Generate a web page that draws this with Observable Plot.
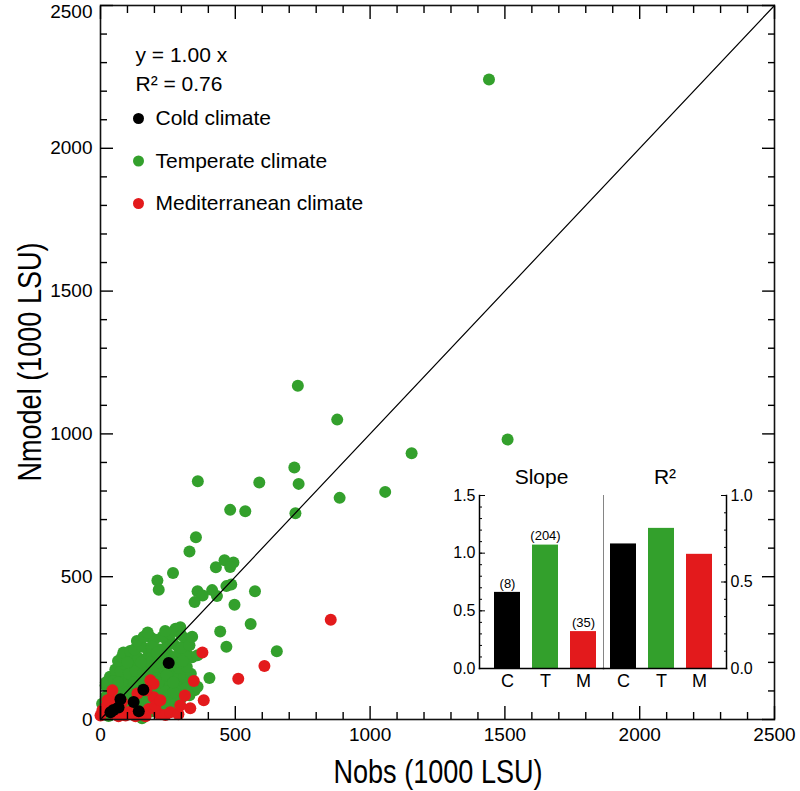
<!DOCTYPE html>
<html><head><meta charset="utf-8">
<script src="https://cdn.jsdelivr.net/npm/d3@7"></script>
<script src="https://cdn.jsdelivr.net/npm/@observablehq/plot@0.6"></script>
<style>
body{margin:0;background:#fff;}
#wrap{position:relative;width:800px;height:791px;}
.inset{position:absolute;}
.atitle{position:absolute;font-family:"Liberation Sans",Arial,sans-serif;font-size:33px;line-height:1;white-space:nowrap;color:#000;}
#xtitle{left:438px;top:771px;transform:translate(-50%,-50%) scaleX(0.82);}
#ytitle{left:29px;top:362px;transform:translate(-50%,-50%) rotate(-90deg) scaleX(0.82);}
</style></head><body><div id="wrap"></div>
<script>
// ---------- data ----------
const coldX = [253,159,74,123,48,67,142,37];
const coldY = [198,104,71,61,33,42,29,25];

const medX = [854,378,608,511,346,313,383,185,197,197,37,80,19,49,105,179,216,241,0,26,56,93,130,167,204,222,170,259,289,7,67,333,296,137,44];
const medY = [349,235,187,143,135,84,67,137,125,78,72,61,43,20,26,37,20,16,14,67,56,14,11,11,49,67,102,25,18,32,11,39,49,91,102];

const tempX = [1441,1510,732,878,1154,719,735,887,1056,361,589,481,537,723,354,330,269,211,216,428,460,493,481,467,485,360,379,349,414,432,573,497,557,444,467,654,404,349,296,278,284,185,142,247,290,315,99,130,179,216,74,105,142,303,340,204,241,278,56,93,130,19,229,266,80,6,154,
 10,30,55,85,110,135,160,190,220,250,
 15,40,65,90,115,145,170,200,230,260,290,
 20,45,70,95,120,150,175,205,235,265,300,330,
 30,55,85,110,140,165,195,225,255,285,315,360,
 35,60,90,115,145,170,200,225,255,285,310,335,250,
 55,75,95,120,150,180,210,235,260,290,320,300,
 65,80,110,140,165,190,230,255,280,320,360,
 85,110,125,155,195,220,245,270,300,330,
 135,160,200,230,260,300,340,
 25,50,75,100,130,155,180,210,240,270,20,50,80,105,130,160,185,215,245,275,305,175,240,
 35,65,100,125,150,185,215,245,270,190,210,150,100,60,240,280];
const tempY = [2241,980,1169,1050,932,882,825,776,797,834,830,734,729,722,638,588,513,487,454,533,558,550,534,467,473,449,434,411,453,432,449,402,334,308,255,239,145,102,323,318,312,288,265,277,253,283,218,224,236,213,189,178,195,213,218,166,154,154,154,137,125,119,107,90,90,55,4,
 20,12,25,18,30,22,15,28,35,40,
 45,50,60,48,42,55,48,52,60,55,60,
 80,85,95,75,85,80,72,85,78,70,75,85,
 110,115,112,105,115,120,108,115,120,110,120,115,
 150,160,145,150,145,140,150,140,135,140,150,160,165,
 175,170,190,185,180,175,185,180,190,180,185,200,
 205,220,210,215,210,220,215,225,220,230,225,
 235,240,245,255,250,245,255,265,250,260,
 275,290,280,290,300,295,290,
 35,35,40,60,65,35,60,70,100,95,130,135,130,160,170,165,200,200,210,200,205,305,310,
 95,130,95,130,100,90,130,155,130,255,235,200,200,25,20,35];

const fitSlope = 1.00;
const fitR2 = 0.76;

const legendLabels = ["Cold climate", "Temperate climate", "Mediterranean climate"];
const climateColors = ["#000000", "#33a02c", "#e31a1c"];

// inset
const climates = ["C", "T", "M"];
const slopeValues = [0.66, 1.07, 0.32];
const slopeCounts = [8, 204, 35];
const r2Values = [0.72, 0.81, 0.66];

// axis ticks
const mainMajor = [0, 500, 1000, 1500, 2000, 2500];
const mainMinor = d3.range(100, 2500, 100).filter(d => d % 500 !== 0);
const slopeMajor = [0, 0.5, 1.0, 1.5];
const slopeMinor = d3.range(0, 16).map(i => i / 10);
const r2Major = [0, 0.5, 1.0];
const r2Minor = d3.range(0, 11).map(i => i / 10);

const xTitle = "Nobs (1000 LSU)";
const yTitle = "Nmodel (1000 LSU)";

// ---------- build ----------
const toRows = (xs, ys) => xs.map((x, i) => ({x, y: ys[i]}));
const cold = toRows(coldX, coldY);
const temperate = toRows(tempX, tempY);
const mediterranean = toRows(medX, medY);

const FONT = '"Liberation Sans", Arial, sans-serif';

const blank = () => "";
function ticksAll(axis, anchors, major, minor, majorLen, minorLen, sw) {
  const out = [];
  for (const a of anchors) {
    out.push(axis({anchor: a, ticks: major, tickSize: -majorLen, tickFormat: blank, label: null, strokeWidth: sw}));
    out.push(axis({anchor: a, ticks: minor, tickSize: -minorLen, tickFormat: blank, label: null, strokeWidth: sw}));
  }
  return out;
}
const fmtInt = d => String(d);
const topY = mainMajor[mainMajor.length - 1];

const main = Plot.plot({
  width: 800, height: 791,
  marginLeft: 100, marginRight: 26, marginTop: 5, marginBottom: 72,
  style: {fontFamily: FONT, background: "white", color: "black", overflow: "visible"},
  x: {domain: [0, 2500], axis: null},
  y: {domain: [0, 2500], axis: null},
  marks: [
    Plot.dot(temperate, {x: "x", y: "y", r: 6, fill: climateColors[1]}),
    Plot.dot(mediterranean, {x: "x", y: "y", r: 6, fill: climateColors[2]}),
    Plot.dot(cold, {x: "x", y: "y", r: 6, fill: climateColors[0]}),
    Plot.line([0, 2500], {x: d => d, y: d => fitSlope * d, stroke: "black", strokeWidth: 1.2}),
    Plot.frame({stroke: "#111", strokeWidth: 1.6}),
    ...ticksAll(Plot.axisX, ["bottom", "top"], mainMajor, mainMinor, 13, 7, 1.4),
    ...ticksAll(Plot.axisY, ["left", "right"], mainMajor, mainMinor, 13, 7, 1.4),
    Plot.axisX({anchor: "bottom", ticks: mainMajor, tickSize: 0, tickPadding: 8, fontSize: 19, tickFormat: fmtInt, label: null}),
    Plot.axisY({anchor: "left", ticks: mainMajor.filter(d => d !== topY), tickSize: 0, tickPadding: 8, fontSize: 19, tickFormat: fmtInt, label: null}),
    Plot.axisY({anchor: "left", ticks: [topY], tickSize: 0, tickPadding: 8, fontSize: 19, dy: 6, tickFormat: fmtInt, label: null}),
    Plot.text([`y = ${fitSlope.toFixed(2)} x`], {frameAnchor: "top-left", dx: 35, dy: 50, fontSize: 21, textAnchor: "start", lineAnchor: "middle"}),
    Plot.text([`R² = ${fitR2.toFixed(2)}`], {frameAnchor: "top-left", dx: 35, dy: 79, fontSize: 21, textAnchor: "start", lineAnchor: "middle"}),
    ...legendLabels.flatMap((lab, i) => [
      Plot.dot([lab], {frameAnchor: "top-left", dx: 38, dy: 113 + i * 42.5, r: 5.5, fill: climateColors[i]}),
      Plot.text([lab], {frameAnchor: "top-left", dx: 55, dy: 113 + i * 42.5, fontSize: 21, textAnchor: "start", lineAnchor: "middle"})
    ])
  ]
});

const slopeRows = climates.map((c, i) => ({climate: c, value: slopeValues[i], n: slopeCounts[i]}));
const r2Rows = climates.map((c, i) => ({climate: c, value: r2Values[i]}));

const insetL = Plot.plot({
  width: 163, height: 245,
  marginLeft: 39, marginRight: 0, marginTop: 40, marginBottom: 32,
  style: {fontFamily: FONT, background: "transparent", color: "black", overflow: "visible"},
  x: {domain: climates, paddingInner: 0.3077, paddingOuter: 0.2436, align: 0.684, axis: null},
  y: {domain: [0, 1.5], axis: null},
  color: {domain: climates, range: climateColors},
  marks: [
    Plot.barY(slopeRows, {x: "climate", y: "value", fill: "climate"}),
    Plot.text(slopeRows, {x: "climate", y: "value", text: d => `(${d.n})`, dy: -9, fontSize: 13, lineAnchor: "middle"}),
    Plot.text(["Slope"], {frameAnchor: "top", dy: -18, fontSize: 21, lineAnchor: "middle"}),
    Plot.axisX({anchor: "bottom", tickSize: 0, tickPadding: 6, fontSize: 18, label: null}),
    Plot.axisY({anchor: "left", ticks: slopeMajor, tickSize: 0, tickPadding: 4, fontSize: 16, tickFormat: d3.format(".1f"), label: null}),
    Plot.axisY({anchor: "left", ticks: slopeMajor, tickSize: -6, tickFormat: blank, label: null}),
    Plot.axisY({anchor: "left", ticks: slopeMinor, tickSize: -3, tickFormat: blank, label: null}),
    Plot.frame({anchor: "left", stroke: "black", strokeWidth: 1.5}),
    Plot.frame({anchor: "bottom", stroke: "black", strokeWidth: 1.5})
  ]
});

const insetR = Plot.plot({
  width: 167, height: 245,
  marginLeft: 0, marginRight: 44, marginTop: 40, marginBottom: 32,
  style: {fontFamily: FONT, background: "transparent", color: "black", overflow: "visible"},
  x: {domain: climates, paddingInner: 0.3077, paddingOuter: 0.25, align: 0.333, axis: null},
  y: {domain: [0, 1.0], axis: null},
  color: {domain: climates, range: climateColors},
  marks: [
    Plot.barY(r2Rows, {x: "climate", y: "value", fill: "climate"}),
    Plot.text(["R²"], {frameAnchor: "top", dy: -18, fontSize: 21, lineAnchor: "middle"}),
    Plot.axisX({anchor: "bottom", tickSize: 0, tickPadding: 6, fontSize: 18, label: null}),
    Plot.axisY({anchor: "right", ticks: r2Major, tickSize: 0, tickPadding: 4, fontSize: 16, tickFormat: d3.format(".1f"), label: null}),
    Plot.axisY({anchor: "right", ticks: r2Major, tickSize: -6, tickFormat: blank, label: null}),
    Plot.axisY({anchor: "right", ticks: r2Minor, tickSize: -3, tickFormat: blank, label: null}),
    Plot.frame({anchor: "left", stroke: "#666", strokeWidth: 0.8}),
    Plot.frame({anchor: "right", stroke: "black", strokeWidth: 1.5}),
    Plot.frame({anchor: "bottom", stroke: "black", strokeWidth: 1.5})
  ]
});

const wrap = document.getElementById("wrap");
wrap.appendChild(main);
const dL = document.createElement("div"); dL.className = "inset"; dL.style.left = "440px"; dL.style.top = "455px"; dL.appendChild(insetL);
const dR = document.createElement("div"); dR.className = "inset"; dR.style.left = "603px"; dR.style.top = "455px"; dR.appendChild(insetR);
wrap.appendChild(dL); wrap.appendChild(dR);
const xt = document.createElement("div"); xt.className = "atitle"; xt.id = "xtitle"; xt.textContent = xTitle;
const yt = document.createElement("div"); yt.className = "atitle"; yt.id = "ytitle"; yt.textContent = yTitle;
wrap.appendChild(xt); wrap.appendChild(yt);
for (const s of wrap.querySelectorAll("svg")) s.style.display = "block";
</script></body></html>
